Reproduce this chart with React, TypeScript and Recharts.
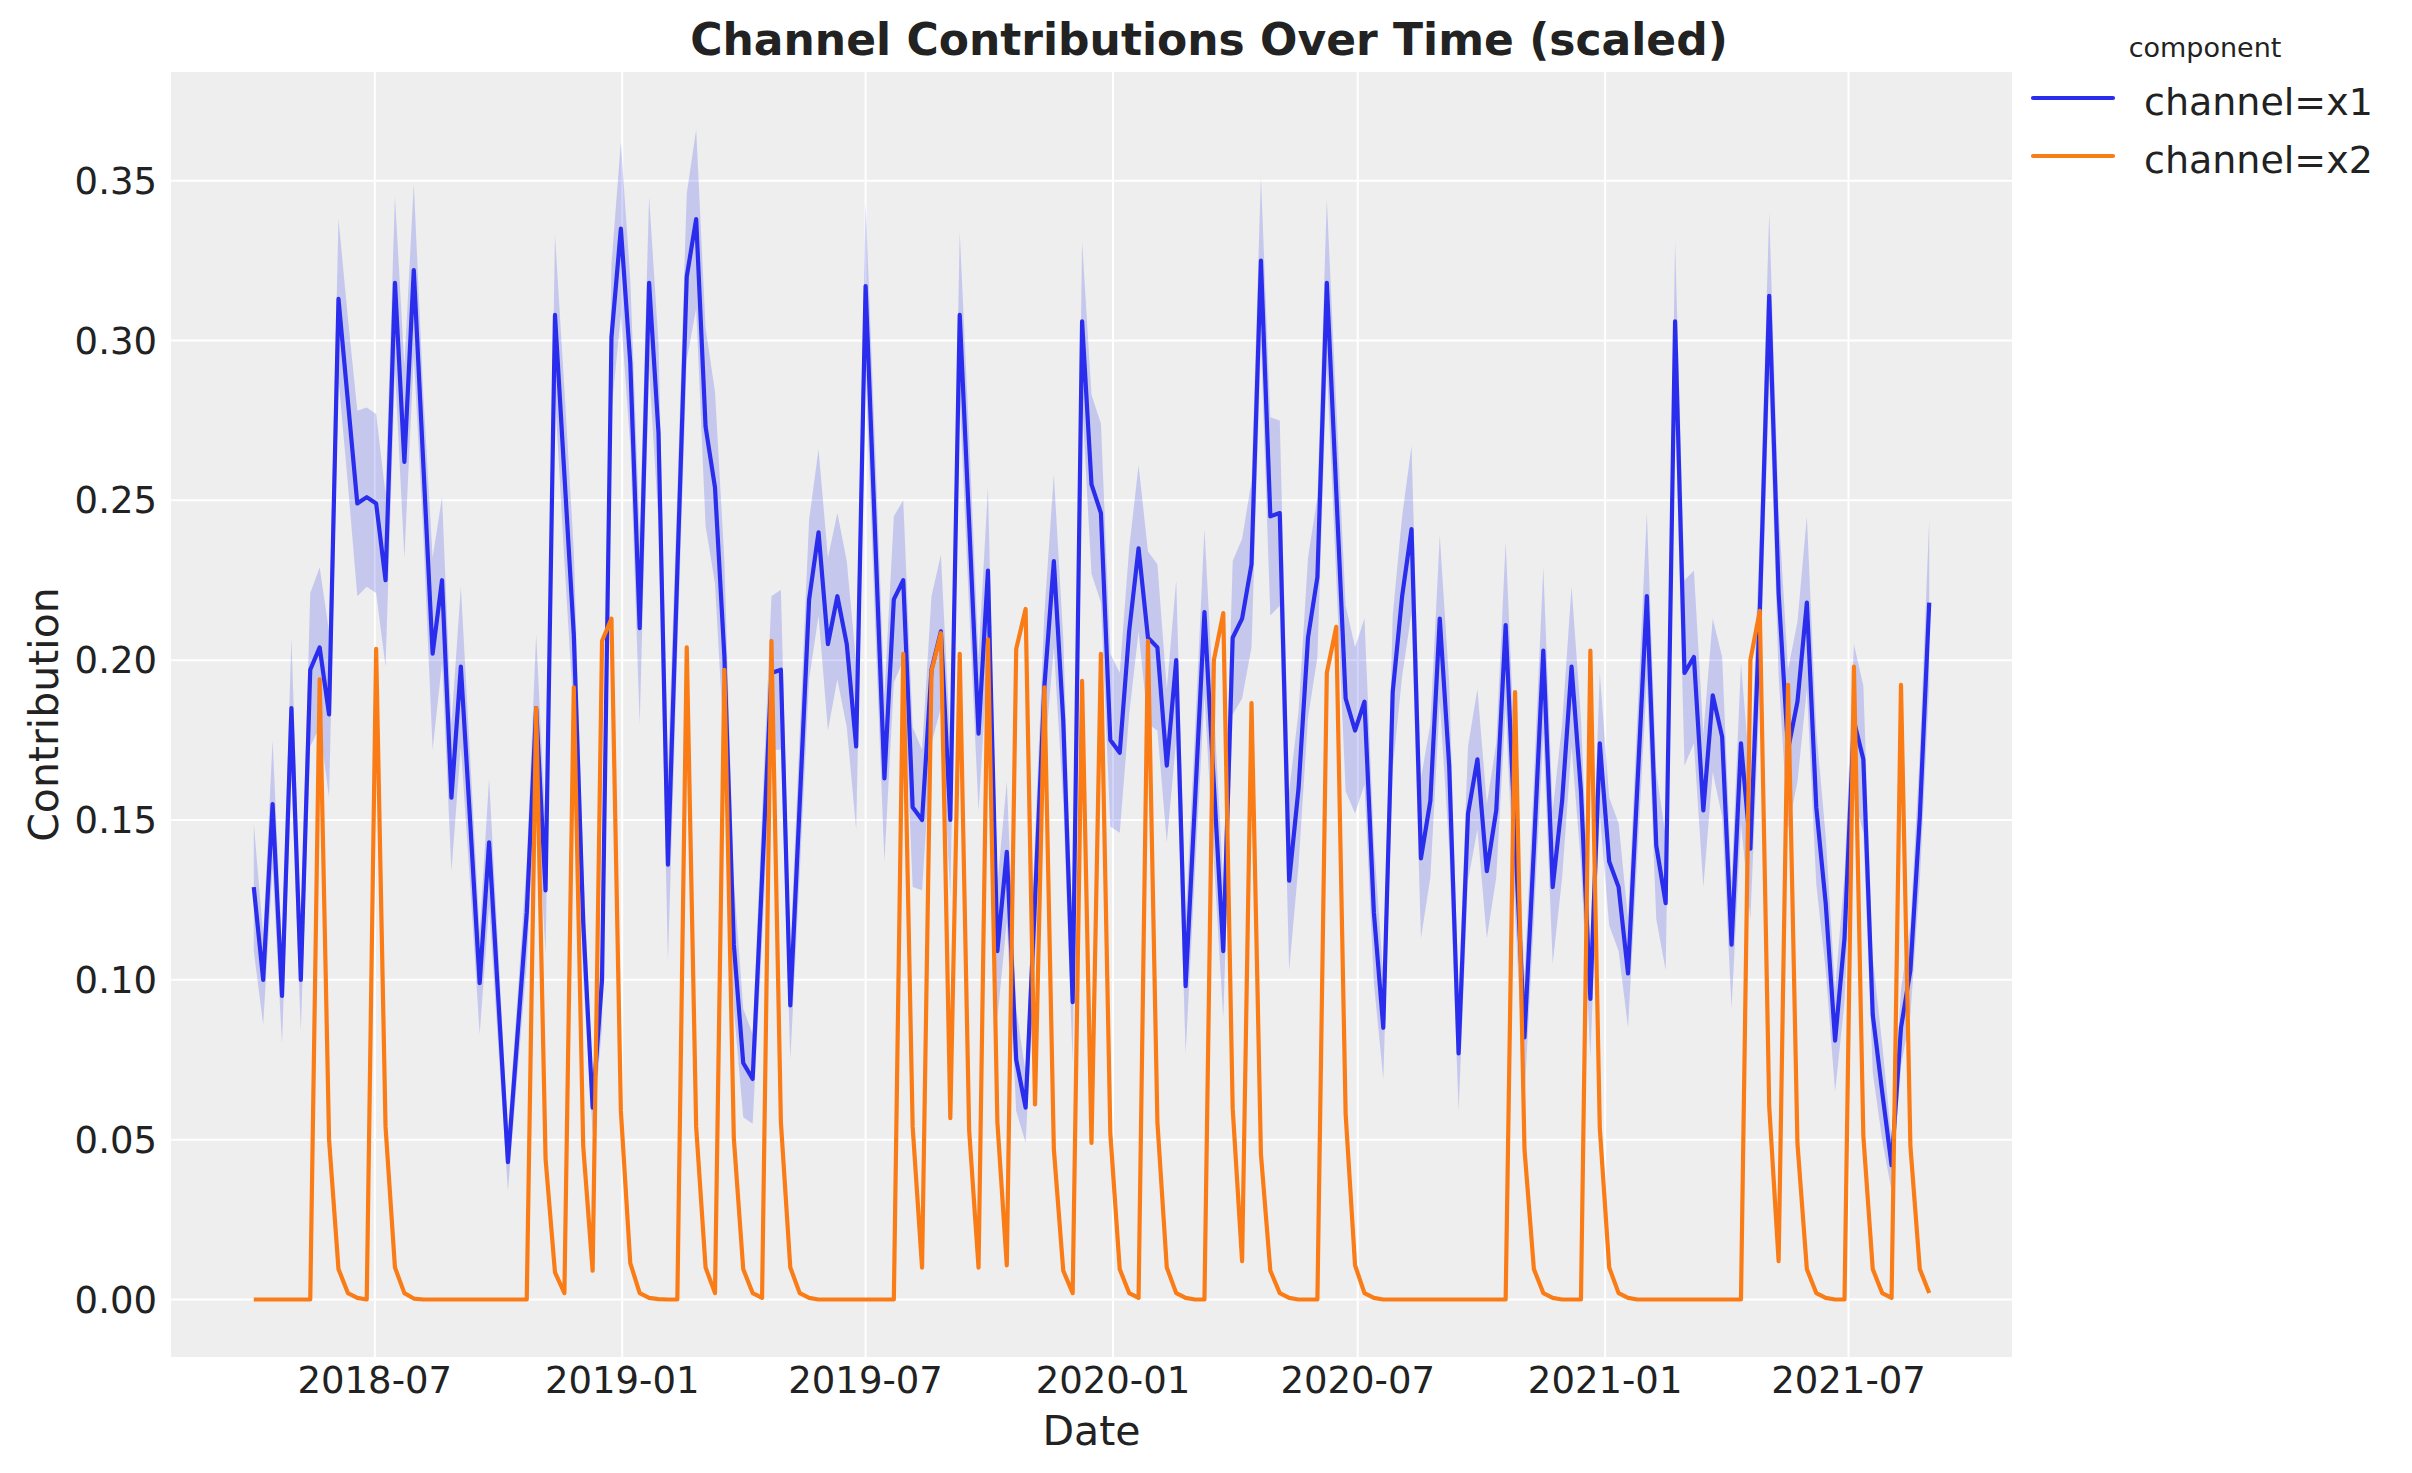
import { ComposedChart, Line, Area, XAxis, YAxis, CartesianGrid, Legend, Label } from 'recharts';

// weekly observations start here (one point per week)
const startDate = '2018-04-02';

const x1Values = [
  0.129, 0.100, 0.155, 0.095, 0.185, 0.100, 0.197, 0.204, 0.183, 0.313,
  0.281, 0.249, 0.251, 0.249, 0.225, 0.318, 0.262, 0.322, 0.262, 0.202,
  0.225, 0.157, 0.198, 0.149, 0.099, 0.143, 0.093, 0.043, 0.082, 0.121,
  0.185, 0.128, 0.308, 0.258, 0.208, 0.118, 0.060, 0.100, 0.301, 0.335,
  0.293, 0.210, 0.318, 0.271, 0.136, 0.228, 0.320, 0.338, 0.273, 0.254,
  0.201, 0.111, 0.074, 0.069, 0.132, 0.196, 0.197, 0.092, 0.155, 0.219,
  0.240, 0.205, 0.220, 0.205, 0.173, 0.317, 0.240, 0.163, 0.219, 0.225,
  0.154, 0.150, 0.197, 0.209, 0.150, 0.308, 0.243, 0.177, 0.228, 0.109,
  0.140, 0.075, 0.060, 0.125, 0.192, 0.231, 0.181, 0.093, 0.306, 0.255,
  0.246, 0.175, 0.171, 0.209, 0.235, 0.207, 0.204, 0.167, 0.200, 0.098,
  0.156, 0.215, 0.161, 0.109, 0.207, 0.213, 0.230, 0.325, 0.245, 0.246,
  0.131, 0.160, 0.207, 0.226, 0.318, 0.253, 0.188, 0.178, 0.187, 0.121,
  0.085, 0.190, 0.220, 0.241, 0.138, 0.156, 0.213, 0.167, 0.077, 0.152,
  0.169, 0.134, 0.153, 0.211, 0.145, 0.082, 0.141, 0.203, 0.129, 0.156,
  0.198, 0.159, 0.094, 0.174, 0.137, 0.129, 0.102, 0.161, 0.220, 0.142,
  0.124, 0.306, 0.196, 0.201, 0.153, 0.189, 0.176, 0.111, 0.174, 0.141,
  0.215, 0.314, 0.221, 0.172, 0.187, 0.218, 0.154, 0.124, 0.081, 0.113,
  0.181, 0.169, 0.089, 0.065, 0.042, 0.085, 0.103, 0.151, 0.218,
];

const x2Values = [
  0, 0, 0, 0, 0, 0, 0, 0.194, 0.050, 0.0095,
  0.002, 0.0005, 0, 0.2035, 0.054, 0.010, 0.002, 0.0003, 0, 0,
  0, 0, 0, 0, 0, 0, 0, 0, 0, 0,
  0.185, 0.044, 0.0085, 0.002, 0.1915, 0.048, 0.009, 0.206, 0.213, 0.059,
  0.0114, 0.002, 0.0005, 0.0001, 0, 0, 0.204, 0.054, 0.010, 0.002,
  0.197, 0.0505, 0.0095, 0.002, 0.0005, 0.206, 0.0555, 0.010, 0.002, 0.0005,
  0, 0, 0, 0, 0, 0, 0, 0, 0, 0.202,
  0.054, 0.010, 0.1965, 0.2085, 0.0567, 0.202, 0.053, 0.010, 0.2065, 0.0555,
  0.0107, 0.2035, 0.216, 0.061, 0.1915, 0.047, 0.009, 0.002, 0.1935, 0.049,
  0.202, 0.052, 0.0095, 0.002, 0.0005, 0.206, 0.0555, 0.010, 0.002, 0.0005,
  0, 0, 0.200, 0.2147, 0.0597, 0.012, 0.1866, 0.0455, 0.009, 0.002,
  0.0005, 0, 0, 0, 0.196, 0.2104, 0.058, 0.0107, 0.002, 0.0005,
  0, 0, 0, 0, 0, 0, 0, 0, 0, 0,
  0, 0, 0, 0, 0.190, 0.047, 0.0095, 0.002, 0.0005, 0,
  0, 0, 0.203, 0.0537, 0.010, 0.002, 0.0005, 0, 0, 0,
  0, 0, 0, 0, 0, 0, 0, 0, 0, 0.200,
  0.2154, 0.0604, 0.012, 0.1923, 0.0488, 0.0095, 0.002, 0.0005, 0, 0,
  0.198, 0.0512, 0.0095, 0.002, 0.0005, 0.1923, 0.048, 0.0095, 0.002,
];

// half width of the x1 HDI band
const x1Spread = [
  0.020, 0.014, 0.020, 0.015, 0.022, 0.016, 0.024, 0.025, 0.026, 0.025,
  0.026, 0.029, 0.028, 0.028, 0.027, 0.027, 0.030, 0.027, 0.022, 0.030,
  0.026, 0.023, 0.025, 0.020, 0.016, 0.020, 0.015, 0.009, 0.012, 0.016,
  0.023, 0.020, 0.025, 0.027, 0.026, 0.018, 0.008, 0.015, 0.023, 0.027,
  0.026, 0.030, 0.027, 0.028, 0.030, 0.025, 0.026, 0.028, 0.031, 0.030,
  0.030, 0.020, 0.017, 0.014, 0.020, 0.024, 0.025, 0.017, 0.022, 0.025,
  0.026, 0.027, 0.026, 0.026, 0.026, 0.026, 0.028, 0.026, 0.026, 0.025,
  0.025, 0.022, 0.023, 0.024, 0.024, 0.026, 0.027, 0.024, 0.026, 0.021,
  0.022, 0.016, 0.011, 0.020, 0.023, 0.027, 0.026, 0.019, 0.025, 0.028,
  0.028, 0.027, 0.025, 0.026, 0.026, 0.027, 0.026, 0.024, 0.025, 0.021,
  0.022, 0.026, 0.024, 0.021, 0.024, 0.025, 0.026, 0.026, 0.031, 0.029,
  0.028, 0.024, 0.025, 0.025, 0.026, 0.027, 0.029, 0.026, 0.026, 0.022,
  0.016, 0.024, 0.025, 0.026, 0.025, 0.024, 0.026, 0.026, 0.018, 0.021,
  0.022, 0.021, 0.021, 0.026, 0.024, 0.019, 0.022, 0.026, 0.024, 0.024,
  0.025, 0.023, 0.018, 0.022, 0.020, 0.020, 0.017, 0.022, 0.026, 0.023,
  0.021, 0.025, 0.029, 0.027, 0.024, 0.024, 0.025, 0.020, 0.025, 0.022,
  0.025, 0.026, 0.026, 0.025, 0.025, 0.027, 0.024, 0.021, 0.016, 0.020,
  0.024, 0.023, 0.018, 0.015, 0.008, 0.012, 0.014, 0.020, 0.026,
];

const tickDates = ['2018-07-01', '2019-01-01', '2019-07-01', '2020-01-01', '2020-07-01', '2021-01-01', '2021-07-01'];
const tickLabels = ['2018-07', '2019-01', '2019-07', '2020-01', '2020-07', '2021-01', '2021-07'];
const yTicks = [0, 0.05, 0.1, 0.15, 0.2, 0.25, 0.3, 0.35];

const seriesNames = ['channel=x1', 'channel=x2'];
const seriesColors = ['#2a2eec', '#fa7c17'];

const DAY = 86400000;
const start = Date.parse(startDate);
const tickDays = tickDates.map((d) => (Date.parse(d) - start) / DAY);

const data = x1Values.map((v, i) => ({
  day: i * 7,
  x1: v,
  x2: x2Values[i],
  band: [v - x1Spread[i], v + x1Spread[i]],
}));

const TEXT = '#222222';
const FONT = 'DejaVu Sans, sans-serif';
const LINE_W = 4.2;

function renderLegend() {
  return (
    <svg width={392} height={200} style={{ fontFamily: FONT }}>
      <text x={185} y={57} textAnchor="middle" fontSize={27} fill={TEXT}>component</text>
      {seriesNames.map((name, i) => (
        <g key={name}>
          <line x1={13} x2={93} y1={98 + i * 58} y2={98 + i * 58} stroke={seriesColors[i]} strokeWidth={LINE_W} strokeLinecap="round" />
          <text x={124} y={115 + i * 58} fontSize={38} fill={TEXT}>{name}</text>
        </g>
      ))}
    </svg>
  );
}

export default function App() {
  return (
    <div style={{ position: 'relative', width: 2412, height: 1473, background: '#fff', fontFamily: FONT }}>
      <style>{'body{margin:0}'}</style>
      <div
        style={{
          position: 'absolute',
          left: 0,
          top: 18,
          width: 2418,
          textAlign: 'center',
          fontSize: 44,
          lineHeight: '44px',
          fontWeight: 'bold',
          color: TEXT,
        }}
      >
        Channel Contributions Over Time (scaled)
      </div>
      <ComposedChart width={2412} height={1473} data={data} margin={{ top: 71, right: 399, bottom: 15, left: 20 }}>
        <CartesianGrid fill="#eeeeee" stroke="#ffffff" strokeWidth={2} />
        <XAxis
          type="number"
          dataKey="day"
          domain={[-62.3, 1308.3]}
          ticks={tickDays}
          interval={0}
          allowDataOverflow
          height={100}
          axisLine={false}
          tickLine={false}
          tickSize={0}
          tickMargin={9}
          tick={{ fontSize: 37, fill: TEXT, fontFamily: FONT }}
          tickFormatter={(v) => tickLabels[tickDays.indexOf(v)] ?? ''}
        >
          <Label
            content={(props: any) => {
              const vb = props.viewBox || { x: 170, y: 1358, width: 1843, height: 100 };
              return (
                <text x={vb.x + vb.width / 2} y={vb.y + 87} textAnchor="middle" fontSize={41} fill={TEXT} fontFamily={FONT}>
                  Date
                </text>
              );
            }}
          />
        </XAxis>
        <YAxis
          type="number"
          domain={[-0.0183, 0.3843]}
          ticks={yTicks}
          interval={0}
          allowDataOverflow
          width={150}
          axisLine={false}
          tickLine={false}
          tickSize={0}
          tickMargin={13}
          tick={{ fontSize: 37, fill: TEXT, fontFamily: FONT }}
          tickFormatter={(v) => Number(v).toFixed(2)}
        >
          <Label
            content={(props: any) => {
              const vb = props.viewBox || { x: 20, y: 71, width: 150, height: 1287 };
              const cx = vb.x + 38;
              const cy = vb.y + vb.height / 2;
              return (
                <text x={cx} y={cy} transform={`rotate(-90, ${cx}, ${cy})`} textAnchor="middle" fontSize={41} fill={TEXT} fontFamily={FONT}>
                  Contribution
                </text>
              );
            }}
          />
        </YAxis>
        <Legend
          layout="horizontal"
          verticalAlign="middle"
          align="center"
          wrapperStyle={{ position: 'absolute', left: 2020, top: 0, width: 392, height: 200, margin: 0 }}
          content={renderLegend}
        />
        <Area
          type="linear"
          dataKey="band"
          stroke="none"
          fill={seriesColors[0]}
          fillOpacity={0.2}
          legendType="none"
          isAnimationActive={false}
        />
        <Line
          type="linear"
          dataKey="x1"
          name={seriesNames[0]}
          stroke={seriesColors[0]}
          strokeWidth={LINE_W}
          strokeLinejoin="round"
          dot={false}
          activeDot={false}
          isAnimationActive={false}
        />
        <Line
          type="linear"
          dataKey="x2"
          name={seriesNames[1]}
          stroke={seriesColors[1]}
          strokeWidth={LINE_W}
          strokeLinejoin="round"
          dot={false}
          activeDot={false}
          isAnimationActive={false}
        />
      </ComposedChart>
    </div>
  );
}
